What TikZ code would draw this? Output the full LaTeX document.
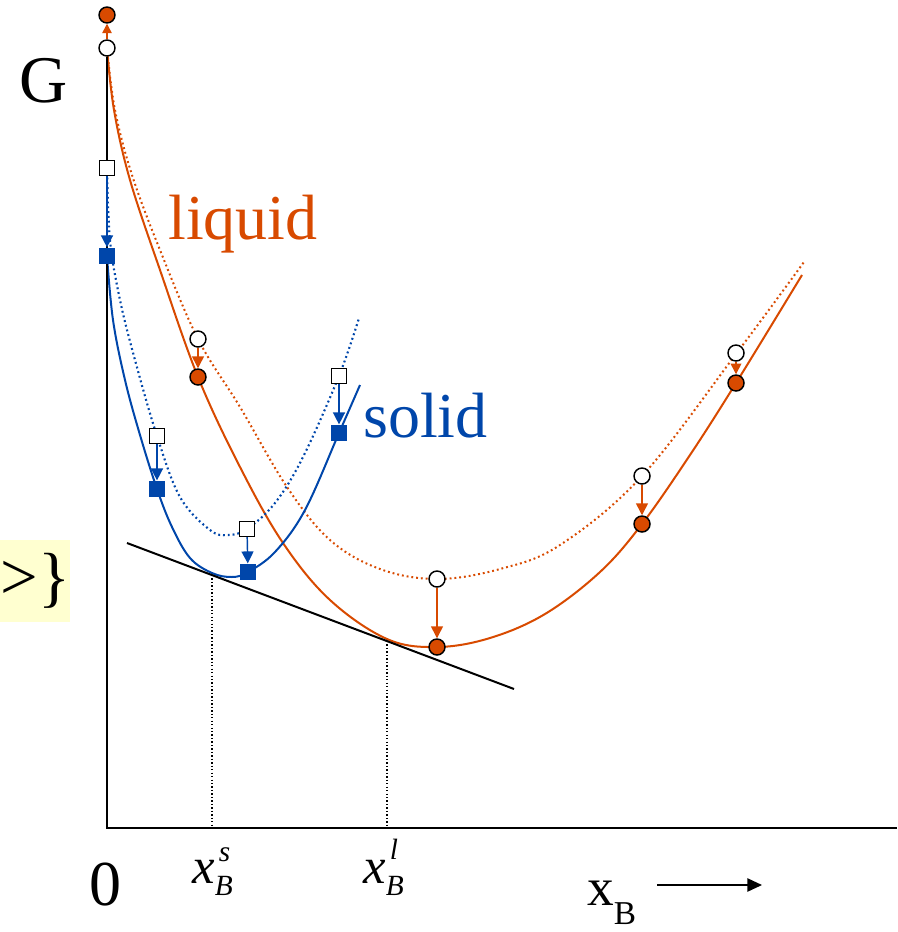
\documentclass[tikz,border=0pt]{standalone}
\usepackage{fontspec}
\setmainfont{Liberation Serif}
\usetikzlibrary{arrows.meta}
\definecolor{liq}{RGB}{216,74,0}
\definecolor{sol}{RGB}{0,70,170}
\definecolor{note}{RGB}{255,255,208}
\begin{document}
\begin{tikzpicture}[x=0.75pt,y=-0.75pt,
  opencirc/.style={circle,draw=black,fill=white,line width=1.1pt,minimum size=12pt,inner sep=0pt},
  fillcirc/.style={circle,draw=black,fill=liq,line width=1.1pt,minimum size=12pt,inner sep=0pt},
  opensq/.style={rectangle,draw=black,fill=white,line width=1.1pt,minimum size=11pt,inner sep=0pt},
  fillsq/.style={rectangle,fill=sol,minimum size=12.5pt,inner sep=0pt},
  liqline/.style={liq,line width=1.5pt},
  liqdot/.style={liq,line width=1.5pt,dash pattern=on 1.4pt off 2.2pt},
  solline/.style={sol,line width=1.5pt},
  soldot/.style={sol,line width=1.6pt,dash pattern=on 1.4pt off 2.2pt},
  liqarrow/.style={liq,line width=1.1pt,-{Triangle[length=9pt,width=9pt]}},
  solarrow/.style={sol,line width=1.1pt,-{Triangle[length=9pt,width=9pt]}},
  guide/.style={black,line width=0.9pt,dash pattern=on 1pt off 1.6pt},
  axis/.style={black,line width=1.5pt}
]
\useasboundingbox (0,0) rectangle (897,932);

% yellow note
\node[fill=note,anchor=north west,minimum width=52.5pt,minimum height=61.5pt,inner sep=0pt,
      font=\fontsize{50}{56}\selectfont] (note) at (0,540) {>\}};

% curves
\draw[liqdot] plot[smooth,tension=0.6] coordinates {(107,48) (115,110) (132,175) (160,250) (198,339) (240,407) (287,487) (330,540) (380,569) (437,579) (500,569) (560,545) (642,476) (736,354) (804,262)};
\draw[liqline] plot[smooth,tension=0.6] coordinates {(107,48) (114,110) (130,180) (160,270) (198,377) (240,467) (283,543) (330,600) (387,639) (437,647) (490,638) (545,614) (600,572) (642,524) (690,455) (736,383) (802,275)};
\draw[soldot] plot[smooth,tension=0.6] coordinates {(107,168) (110,240) (120,300) (135,360) (157,436) (180,497) (210,530) (228,535) (247,529) (275,503) (303,457) (339,376) (359,318)};
\draw[solline] plot[smooth,tension=0.6] coordinates {(107,256) (113,320) (125,380) (140,435) (157,489) (172,527) (190,558) (212,573) (232,577) (248,572) (275,552) (305,510) (339,433) (360,385)};

% tangent and guides
\coordinate (tA) at (127,543);
\coordinate (tB) at (514,689);
\draw[black,line width=1.5pt] (tA) -- (tB);
\coordinate (gs) at (212,575);
\coordinate (gl) at (387,641);
\coordinate (O) at (107,828);
\coordinate (xend) at (897,828);
\draw[guide] (gs) -- (gs |- O);
\draw[guide] (gl) -- (gl |- O);

% markers
\node[opencirc] (o1) at (107,48) {};
\node[opencirc] (o2) at (198,339) {};
\node[opencirc] (o3) at (437,579) {};
\node[opencirc] (o4) at (642,476) {};
\node[opencirc] (o5) at (736,353) {};
\node[fillcirc] (f1) at (107,15) {};
\node[fillcirc] (f2) at (198,377) {};
\node[fillcirc] (f3) at (437,647) {};
\node[fillcirc] (f4) at (642,524) {};
\node[fillcirc] (f5) at (736,383) {};

% axes
\draw[axis] (o1.south) -- (O) -- (xend);

\node[opensq] (s1) at (107,168) {};
\node[opensq] (s2) at (157,436) {};
\node[opensq] (s3) at (247,529) {};
\node[opensq] (s4) at (339,376) {};
\node[fillsq] (t1) at (107,256) {};
\node[fillsq] (t2) at (157,489) {};
\node[fillsq] (t3) at (248,572) {};
\node[fillsq] (t4) at (339,433) {};

% arrows
\draw[liqarrow,-{Triangle[length=7pt,width=7pt]}] (o1) -- (f1);
\draw[liqarrow] (o2) -- (f2);
\draw[liqarrow] (o3) -- (f3);
\draw[liqarrow] (o4) -- (f4);
\draw[liqarrow,-{Triangle[length=8pt,width=8pt]}] (o5) -- (f5);
\draw[solarrow] (s1) -- (t1);
\draw[solarrow] (s2) -- (t2);
\draw[solarrow] (s3) -- (t3);
\draw[solarrow] (s4) -- (t4);

% labels
\node[anchor=base west,inner sep=0pt,font=\fontsize{50}{60}\selectfont] (G) at (19,102) {G};
\node[anchor=base west,inner sep=0pt,text=liq,font=\fontsize{48}{58}\selectfont] (liqlabel) at (168,239) {liquid};
\node[anchor=base west,inner sep=0pt,text=sol,font=\fontsize{48}{58}\selectfont] (sollabel) at (363,437) {solid};
\node[anchor=base,inner sep=0pt,font=\fontsize{48}{58}\selectfont] (zero) at (105,905) {0};
\node[anchor=base west,inner sep=0pt] (xs) at (192,883)
  {\fontsize{38}{44}\selectfont\itshape x\fontsize{22}{26}\selectfont\rlap{\hspace{3pt}\raisebox{16pt}{s}}\raisebox{-9pt}{B}};
\node[anchor=base west,inner sep=0pt] (xl) at (363,883)
  {\fontsize{38}{44}\selectfont\itshape x\fontsize{22}{26}\selectfont\rlap{\hspace{3pt}\raisebox{18pt}{l}}\raisebox{-9pt}{B}};
\node[anchor=base west,inner sep=0pt] (xb) at (587,905)
  {\fontsize{40}{48}\selectfont x\fontsize{25}{30}\selectfont\raisebox{-14.5pt}{B}};
\coordinate (arA) at (657,885);
\coordinate (arB) at (762,885);
\draw[black,line width=1.1pt,-{Triangle[length=11pt,width=10pt]}] (arA) -- (arB);
\end{tikzpicture}
\end{document}
